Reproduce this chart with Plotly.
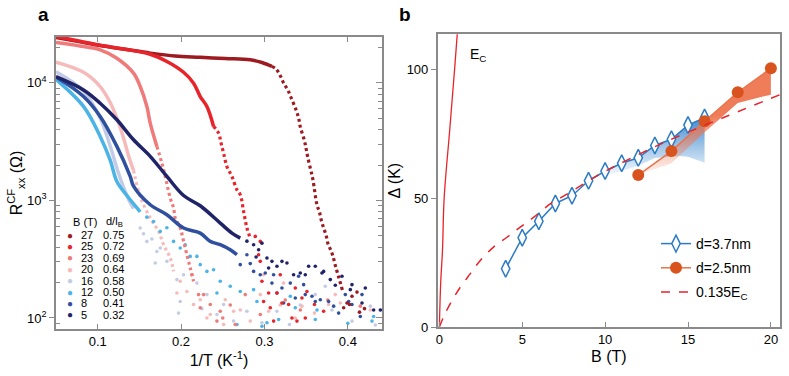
import plotly.graph_objects as go

# ---- panel a: R_xx^CF vs 1/T ----
# band = high-T part where points merge into a solid band
# drop = steep part where the points still follow each other
# pts  = scattered low-T tail
B_fields = [27, 25, 23, 20, 16, 12, 8, 5]
d_over_lB = ["0.75", "0.72", "0.69", "0.64", "0.58", "0.50", "0.41", "0.32"]
colors_a = ["#9c1a20", "#e8232a", "#f07a7a", "#f6baba", "#c4cbe6", "#4bb3e6", "#2f4f9f", "#1f2368"]

x27_band = [0.050, 0.079, 0.103, 0.133, 0.163, 0.193, 0.223, 0.253, 0.283, 0.297, 0.309]
r27_band = [24300, 22300, 20800, 19300, 17900, 16900, 16500, 16100, 15700, 14900, 13800]
x27_drop = [0.309, 0.314, 0.319, 0.323, 0.328, 0.333, 0.338, 0.341, 0.343, 0.348, 0.350, 0.352, 0.355, 0.358,
            0.363, 0.366, 0.368, 0.371, 0.374, 0.376, 0.379, 0.382, 0.385, 0.389, 0.394]
r27_drop = [13800, 13100, 11500, 9940, 8710, 7170, 5870, 5010, 4230, 3210, 2750, 2320, 1880, 1520,
            918, 794, 685, 582, 504, 433, 385, 339, 280, 223, 168]
x27_pts = [0.395, 0.399, 0.402, 0.405, 0.411, 0.414, 0.420]
r27_pts = [122, 134, 130, 153, 166, 112, 120]

x25_band = [0.050, 0.079, 0.103, 0.133, 0.163, 0.183, 0.203, 0.215, 0.223, 0.231, 0.239]
r25_band = [24800, 22600, 20900, 19300, 17500, 15200, 12300, 9940, 7650, 6290, 4260]
x25_drop = [0.239, 0.245, 0.248, 0.251, 0.255, 0.261, 0.267, 0.271, 0.275, 0.279, 0.283]
r25_drop = [4260, 3730, 3070, 2520, 1940, 1600, 1230, 1117, 806, 582, 478]
x25_pts = [0.289, 0.293, 0.295, 0.295, 0.297, 0.299, 0.305, 0.307, 0.311, 0.315, 0.319, 0.321, 0.329, 0.333,
           0.337, 0.339, 0.345, 0.349, 0.351, 0.360, 0.371]
r25_pts = [494, 345, 448, 303, 205, 138, 163, 122, 94, 163, 233, 134, 130, 100,
           180, 94, 148, 100, 168, 130, 114]

x23_band = [0.050, 0.080, 0.103, 0.123, 0.143, 0.151, 0.159, 0.163, 0.171]
r23_band = [22000, 20500, 19100, 16200, 12100, 9310, 6300, 4540, 2880]
x23_drop = [0.171, 0.177, 0.181, 0.187, 0.191, 0.193, 0.199, 0.203, 0.207, 0.211, 0.215]
r23_drop = [2880, 2070, 1600, 1047, 861, 708, 582, 448, 345, 266, 205]
x23_pts = [0.213, 0.221, 0.223, 0.227, 0.235, 0.243, 0.247, 0.250, 0.259, 0.265, 0.277, 0.295, 0.325,
           0.343, 0.376, 0.415]
r23_pts = [233, 158, 122, 158, 130, 94, 114, 100, 129, 88, 158, 107, 142, 117, 142, 126]

x20_band = [0.050, 0.083, 0.103, 0.115, 0.123, 0.131, 0.137, 0.143]
r20_band = [15000, 12300, 9300, 6800, 5000, 3400, 2400, 1800]
x20_drop = [0.143, 0.151, 0.163, 0.173, 0.179, 0.187, 0.191]
r20_drop = [1800, 1080, 708, 545, 420, 324, 249]
x20_pts = [0.195, 0.199, 0.207, 0.215, 0.223, 0.231, 0.235, 0.251, 0.253, 0.263, 0.271, 0.283, 0.295, 0.299,
           0.305, 0.319, 0.323, 0.337, 0.345, 0.360, 0.377, 0.385, 0.391, 0.427]
r20_pts = [163, 205, 168, 130, 143, 100, 107, 88, 143, 114, 117, 94, 158, 233,
           114, 129, 198, 100, 126, 110, 130, 158, 134, 117]

x16_band = [0.050, 0.083, 0.103, 0.115, 0.125, 0.135, 0.143]
r16_band = [12400, 8500, 5000, 2900, 1700, 1100, 850]
x16_pts = [0.151, 0.155, 0.159, 0.165, 0.169, 0.171, 0.175, 0.183, 0.195, 0.197, 0.199, 0.203, 0.219, 0.225,
           0.231, 0.243, 0.251, 0.263, 0.279, 0.297, 0.315, 0.330, 0.343, 0.361, 0.373, 0.381, 0.405, 0.427,
           0.433]
r16_pts = [582, 520, 448, 470, 293, 368, 394, 303, 212, 110, 138, 233, 198, 120,
           158, 107, 130, 94, 114, 91, 114, 88, 129, 158, 186, 117, 94, 126,
           87]

x12_band = [0.050, 0.083, 0.103, 0.115, 0.123, 0.135, 0.151]
r12_band = [10700, 6300, 3500, 2200, 1450, 1100, 800]
x12_pts = [0.159, 0.167, 0.175, 0.183, 0.191, 0.199, 0.205, 0.211, 0.219, 0.223, 0.231, 0.239, 0.243, 0.247,
           0.259, 0.267, 0.271, 0.287, 0.291, 0.297, 0.303, 0.317, 0.331, 0.337, 0.361, 0.363, 0.400, 0.429,
           0.431]
r12_pts = [720, 660, 545, 586, 448, 394, 420, 334, 334, 284, 249, 257, 163, 205,
           186, 88, 168, 174, 138, 85, 91, 97, 153, 122, 97, 117, 90, 94,
           103]

x8_band = [0.050, 0.083, 0.103, 0.123, 0.139, 0.143, 0.163, 0.183, 0.203, 0.223, 0.235, 0.247, 0.259, 0.267]
r8_band = [11200, 7650, 5180, 2880, 1600, 1320, 918, 755, 582, 527, 448, 420, 380, 345]
x8_pts = [0.271, 0.279, 0.283, 0.287, 0.295, 0.301, 0.309, 0.311, 0.315, 0.321, 0.323, 0.331, 0.337, 0.341,
          0.347, 0.349, 0.357, 0.361, 0.367, 0.377, 0.383, 0.389, 0.397, 0.401, 0.405, 0.415, 0.417]
r8_pts = [284, 345, 290, 249, 233, 241, 198, 233, 163, 180, 134, 198, 148, 226,
          192, 158, 153, 138, 143, 138, 126, 110, 158, 138, 130, 103, 158]

x5_band = [0.050, 0.083, 0.103, 0.123, 0.143, 0.163, 0.183, 0.203, 0.223, 0.247, 0.261, 0.271]
r5_band = [11300, 8710, 6710, 4850, 3280, 2370, 1600, 1100, 900, 641, 527, 478]
x5_pts = [0.279, 0.287, 0.290, 0.293, 0.297, 0.303, 0.305, 0.309, 0.315, 0.321, 0.327, 0.335, 0.343, 0.349,
          0.353, 0.361, 0.369, 0.371, 0.379, 0.385, 0.393, 0.403, 0.405, 0.417, 0.421, 0.431, 0.439]
r5_pts = [450, 420, 330, 380, 433, 324, 266, 303, 275, 303, 293, 233, 241, 233,
          275, 275, 241, 249, 212, 190, 226, 174, 192, 134, 180, 117, 117]

series_a = {
    27: (x27_band, r27_band, x27_drop, r27_drop, x27_pts, r27_pts),
    25: (x25_band, r25_band, x25_drop, r25_drop, x25_pts, r25_pts),
    23: (x23_band, r23_band, x23_drop, r23_drop, x23_pts, r23_pts),
    20: (x20_band, r20_band, x20_drop, r20_drop, x20_pts, r20_pts),
    16: (x16_band, r16_band, [], [], x16_pts, r16_pts),
    12: (x12_band, r12_band, [], [], x12_pts, r12_pts),
    8: (x8_band, r8_band, [], [], x8_pts, r8_pts),
    5: (x5_band, r5_band, [], [], x5_pts, r5_pts),
}
draw_order = [16, 20, 12, 23, 8, 27, 25, 5]

# ---- panel b: gap vs B ----
d37_B = [4, 5, 6, 7, 8, 9, 10, 11, 12, 13, 14, 15, 16]
d37_gap = [22.6, 34.6, 41.0, 47.9, 50.9, 56.7, 60.5, 63.5, 65.6, 70.4, 72.8, 78.3, 81.2]
d37_low_B = [16, 15, 14.5, 13, 12, 11, 9]          # lower edge of the blue shading
d37_low = [63.7, 66.0, 66.3, 65.5, 62.5, 60.5, 56.7]

d25_B = [12, 14, 16, 18, 20]
d25_gap = [58.9, 68.2, 79.8, 91.0, 100.3]
d25_low = [58.9, 63.5, 75.5, 86.9, 90.1]            # lower edge of the orange shading

fit_B = [0, 0.26, 0.66, 1.27, 1.87, 2.47, 3.27, 4.08, 4.88, 5.68, 6.69, 7.69, 8.69, 9.7, 13.3, 17.33, 20.6]
fit_gap = [0, 4.0, 9.1, 15.5, 20.7, 25.8, 31.0, 34.8, 38.7, 42.5, 47.7, 51.5, 55.4, 59.3, 70.8, 81.7, 90.2]

ec_B = [0, 0.08, 0.19, 0.29, 0.62, 0.92, 1.12]
ec_gap = [0, 17, 30, 50, 76, 100, 117]

FONT = "Liberation Sans, Arial, sans-serif"
W, H = 789, 376
BLUE = "#2b7bc4"
ORANGE = "#d9531e"
RED = "#e8232a"
FRAME = "#8a8a8a"

fig = go.Figure()

for b in draw_order:
    xb, rb, xd, rd, xp, rp = series_a[b]
    c = colors_a[B_fields.index(b)]
    fig.add_trace(go.Scatter(x=xb, y=rb, mode="lines", line=dict(color=c, width=3.5, shape="spline"),
                             showlegend=False, xaxis="x", yaxis="y", hoverinfo="skip"))
    if xd:
        fig.add_trace(go.Scatter(x=xd, y=rd, mode="lines",
                                 line=dict(color=c, width=3.2, dash="3px,3px", shape="spline"),
                                 showlegend=False, xaxis="x", yaxis="y", hoverinfo="skip"))
    fig.add_trace(go.Scatter(x=xp, y=rp, mode="markers", marker=dict(color=c, size=3.6),
                             showlegend=False, xaxis="x", yaxis="y"))

# empty trace so the mirrored right-hand log axis of panel a gets drawn
fig.add_trace(go.Scatter(x=[], y=[], xaxis="x", yaxis="y3", showlegend=False, hoverinfo="skip"))

# shaded error regions (panel b)
fig.add_trace(go.Scatter(
    x=d37_B[5:] + d37_low_B, y=d37_gap[5:] + d37_low, mode="none", fill="toself",
    fillgradient=dict(type="vertical", start=57, stop=82,
                      colorscale=[[0, "rgba(60,140,210,0.0)"], [1, "rgba(40,120,200,0.9)"]]),
    showlegend=False, xaxis="x2", yaxis="y2", hoverinfo="skip"))
fig.add_trace(go.Scatter(
    x=d25_B + d25_B[::-1], y=d25_gap + d25_low[::-1], mode="none", fill="toself",
    fillgradient=dict(type="vertical", start=60, stop=82,
                      colorscale=[[0, "rgba(240,140,110,0.15)"], [1, "rgba(238,110,70,0.9)"]]),
    showlegend=False, xaxis="x2", yaxis="y2", hoverinfo="skip"))

fig.add_trace(go.Scatter(x=ec_B, y=ec_gap, mode="lines", line=dict(color=RED, width=1.3, shape="spline"),
                         showlegend=False, xaxis="x2", yaxis="y2"))
fig.add_trace(go.Scatter(x=d37_B, y=d37_gap, mode="lines+markers", name="d=3.7nm",
                         line=dict(color=BLUE, width=1.5),
                         marker=dict(symbol="diamond-tall", size=12, color="white", line=dict(color=BLUE, width=1.5)),
                         legendgroup="a", xaxis="x2", yaxis="y2"))
fig.add_trace(go.Scatter(x=d25_B, y=d25_gap, mode="lines+markers", name="d=2.5nm",
                         line=dict(color="#e8744a", width=1.5),
                         marker=dict(symbol="circle", size=12, color=ORANGE),
                         legendgroup="b", xaxis="x2", yaxis="y2"))
fig.add_trace(go.Scatter(x=fit_B, y=fit_gap, mode="lines", name="0.135E<sub>C</sub>",
                         line=dict(color=RED, width=1.5, dash="dash", shape="spline"),
                         legendgroup="c", xaxis="x2", yaxis="y2"))

# legend table of panel a
ann = []
for i, (b, d, c) in enumerate(zip(B_fields, d_over_lB, colors_a)):
    yy = 1 - (235 + i * 11.4) / H
    ann.append(dict(x=70 / W, y=yy, text="●", xanchor="center", font=dict(color=c, size=10)))
    ann.append(dict(x=79 / W, y=yy, text=str(b), xanchor="left", font=dict(color="black", size=11)))
    ann.append(dict(x=101 / W, y=yy, text=d, xanchor="left", font=dict(color="black", size=11)))
ann.append(dict(x=71 / W, y=1 - 222 / H, text="B (T)", xanchor="left", font=dict(color="black", size=11)))
ann.append(dict(x=104 / W, y=1 - 222 / H, text="d/l<sub>B</sub>", xanchor="left",
                font=dict(color="black", size=11)))
for a in ann:
    a.update(xref="paper", yref="paper", yanchor="middle", showarrow=False)

ann.append(dict(x=43 / W, y=1 - 15 / H, xref="paper", yref="paper", text="<b>a</b>", showarrow=False,
                xanchor="center", yanchor="middle", font=dict(size=19)))
ann.append(dict(x=405 / W, y=1 - 15 / H, xref="paper", yref="paper", text="<b>b</b>", showarrow=False,
                xanchor="center", yanchor="middle", font=dict(size=19)))
ann.append(dict(x=1.75, y=105.6, xref="x2", yref="y2", text="E<sub>C</sub>", xanchor="left",
                yanchor="middle", showarrow=False, font=dict(size=14)))

minor_a = [m * 10 ** e for e in (1, 2, 3, 4) for m in range(2, 10)]
dec_a = [100, 1000, 10000]

fig.update_layout(
    width=W, height=H, margin=dict(l=0, r=0, t=0, b=0),
    paper_bgcolor="white", plot_bgcolor="white",
    font=dict(family=FONT, size=13, color="black"),
    annotations=ann,
    xaxis=dict(domain=[56 / W, 382 / W], range=[0.05, 0.441], tickvals=[0.1, 0.2, 0.3, 0.4],
               ticks="inside", ticklen=5, tickcolor=FRAME, showline=True, linecolor=FRAME, linewidth=1.5,
               mirror="ticks", showgrid=False, zeroline=False, automargin=False,
               title=dict(text="1/T (K<sup>-1</sup>)", standoff=6)),
    yaxis=dict(domain=[1 - 329 / H, 1 - 37 / H], type="log", range=[1.906, 4.39],
               tickvals=dec_a, ticktext=["10<sup>2</sup>", "10<sup>3</sup>", "10<sup>4</sup>"],
               ticks="outside", ticklen=5, tickcolor=FRAME,
               minor=dict(tickvals=minor_a, ticks="inside", ticklen=4, tickcolor=FRAME, showgrid=False),
               showline=True, linecolor=FRAME, linewidth=1.5, mirror=True, showgrid=False,
               automargin=False, title=dict(text="R<sup>CF</sup><sub>xx</sub> (Ω)", standoff=0)),
    # right-hand ticks of panel a (pointing inward)
    yaxis3=dict(overlaying="y", side="right", anchor="x", type="log", range=[1.906, 4.39],
                tickvals=dec_a, showticklabels=False, ticks="inside", ticklen=6, tickcolor=FRAME,
                minor=dict(tickvals=minor_a, ticks="inside", ticklen=4, tickcolor=FRAME, showgrid=False),
                showline=False, showgrid=False, zeroline=False, automargin=False),
    xaxis2=dict(domain=[437.7 / W, 780 / W], range=[-0.1, 20.55], tickvals=[0, 5, 10, 15, 20],
                ticks="inside", ticklen=5, tickcolor=FRAME, showline=True, linecolor=FRAME, linewidth=1.5,
                mirror=True, showgrid=False, zeroline=False, automargin=False, anchor="y2",
                title=dict(text="B (T)", standoff=4)),
    yaxis2=dict(domain=[1 - 327 / H, 1 - 34.3 / H], range=[0, 113.5], tickvals=[0, 50, 100],
                ticks="outside", ticklen=5, tickcolor=FRAME, showline=True, linecolor=FRAME, linewidth=1.5,
                mirror=True, showgrid=False, zeroline=False, automargin=False, anchor="x2",
                title=dict(text="Δ (K)", standoff=2)),
    legend=dict(x=656 / W, y=1 - 228 / H, xanchor="left", yanchor="top", bgcolor="rgba(0,0,0,0)",
                font=dict(size=14), tracegroupgap=3, itemwidth=30),
)

# the page's default 8px body margin would shift the whole figure
fig.write_html("out.html", config={"displayModeBar": False},
               post_script="document.body.style.margin = '0px';")
